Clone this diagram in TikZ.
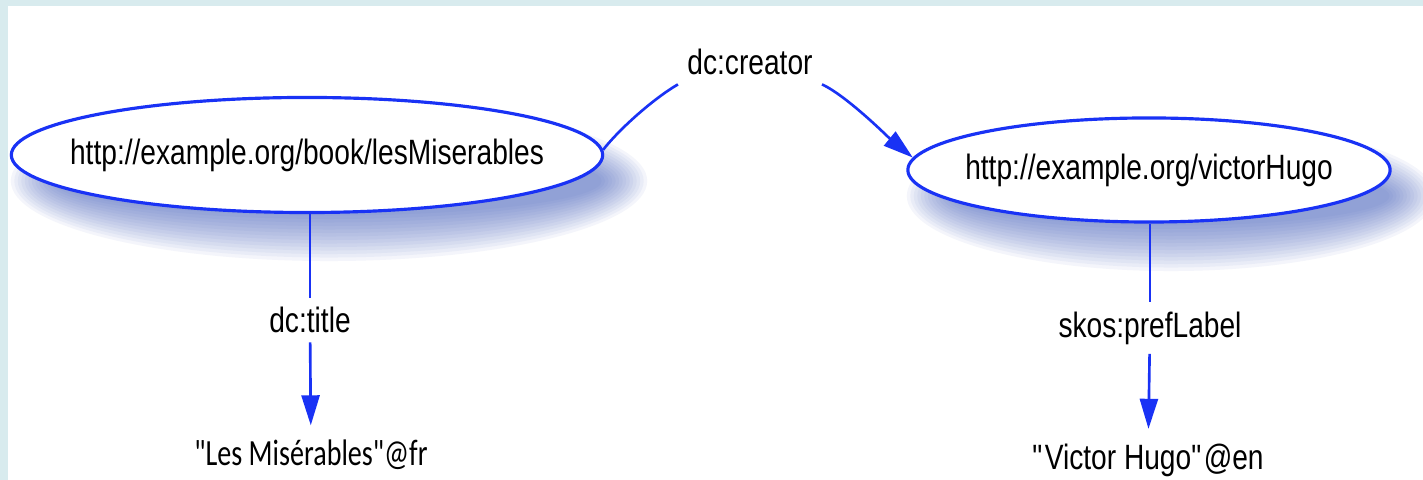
\documentclass[tikz,border=0pt]{standalone}
\usepackage{fontspec}
\setmainfont[FakeStretch=0.8]{Liberation Sans}
\newfontfamily\litfont[FakeStretch=0.76]{Carlito}
\usetikzlibrary{shapes.geometric, arrows.meta, calc, backgrounds}

\definecolor{rdfblue}{RGB}{25,50,245}
\definecolor{shadowblue}{RGB}{70,100,190}
\definecolor{framecol}{RGB}{216,235,238}

% text that does not widen its ellipse
\newcommand{\flaturi}[1]{\makebox[0pt]{#1}}

\begin{document}
\begin{tikzpicture}[
                x = 0.01cm, y = -0.01cm, % one unit is one pixel, y runs down
                > = {Triangle[length=3mm, width=1.8mm]}, % arrow head style
                font = \fontsize{10}{12}\selectfont,
                resource/.style = {draw = rdfblue, ellipse, line width = 0.9pt,
                fill = white, inner sep = 0pt},
                property/.style = {inner sep = 2.5pt},
                literal/.style = {inner sep = 4pt},
                link/.style = {draw = rdfblue, line width = 0.75pt}
            ]
            \useasboundingbox (0,0) rectangle (1423,480);

            % resources
            \node[resource, minimum width = 5.91cm, minimum height = 1.15cm]
            (lesmis) at (307,155) {\flaturi{http://example.org/book/lesMiserables}};
            \node[resource, minimum width = 4.82cm, minimum height = 1.04cm]
            (hugo) at (1149,170) {\flaturi{http://example.org/victorHugo}};

            % properties and literals
            \node[property] (creator) at (750,62) {dc:creator};
            \node[property] (title) at (310,320) {dc:title};
            \node[property] (preflabel) at (1150,328) {skos:prefLabel};
            \node[literal, font = \litfont\fontsize{10.5}{12}\selectfont]
            (lesmislit) at (311,455) {"Les Misérables"@fr};
            \node[literal] (hugolit) at (1148,460)
            {\textquotedbl Victor Hugo\textquotedbl @en};

            % links
            \draw[link] (lesmis.1) .. controls (621,127) and (656,97) ..
            (creator.south west);
            \draw[link, ->] (creator.south east) .. controls (847,96) and
            (889,138) .. (hugo.177);
            \draw[link] (title |- lesmis.south) -- (title);
            \draw[link, ->] (title) -- (lesmislit);
            \draw[link] (preflabel |- hugo.south) -- (preflabel);
            \draw[link, ->] (preflabel) -- (hugolit);

            % frame and soft shadows
            \begin{scope}[on background layer]
                \fill[framecol] (0,0) rectangle (1423,480);
                \fill[white] (8,6) rectangle (1423,480);
                \foreach \k in {0,...,13} {
                    \fill[shadowblue, opacity = 0.06] ($(lesmis)+(22,26)$)
                    ellipse [x radius = {3.18cm-\k*0.035cm},
                    y radius = {0.80cm-\k*0.035cm}];
                    \fill[shadowblue, opacity = 0.06] ($(hugo)+(22,26)$)
                    ellipse [x radius = {2.64cm-\k*0.035cm},
                    y radius = {0.75cm-\k*0.035cm}];
                }
            \end{scope}

        \end{tikzpicture}
\end{document}
